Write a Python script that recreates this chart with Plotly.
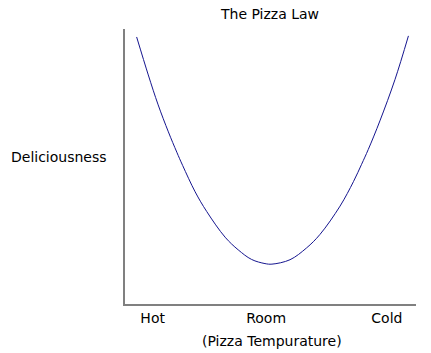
import plotly.graph_objects as go

# Data (x: temperature scale 0-10, y: deliciousness 0-10)
temp_x = [0.40, 0.80, 1.14, 1.49, 1.78, 1.98, 2.41, 2.81, 3.44, 3.89, 4.35, 4.81, 5.05,
          5.67, 6.24, 6.70, 7.39, 7.85, 8.13, 8.36, 8.76, 9.28, 9.74]
delicious_y = [9.71, 8.33, 7.24, 6.26, 5.52, 5.04, 4.08, 3.36, 2.43, 1.97, 1.62, 1.47, 1.45,
               1.61, 2.04, 2.53, 3.56, 4.45, 5.08, 5.62, 6.66, 8.17, 9.75]
tick_vals = [0.95, 4.85, 9.0]
tick_labels = ["Hot", "Room", "Cold"]

FONT = "DejaVu Sans"

fig = go.Figure()
fig.add_trace(go.Scatter(
    x=temp_x, y=delicious_y, mode="lines",
    line=dict(color="#15158f", width=1, shape="spline", smoothing=1.0),
    hoverinfo="skip", showlegend=False,
))

fig.update_layout(
    width=431, height=353,
    margin=dict(l=125, r=15, t=29, b=49),
    paper_bgcolor="white", plot_bgcolor="white",
    font=dict(family=FONT, size=14, color="black"),
    title=dict(text="The Pizza Law", x=270/431, xanchor="center",
               y=1 - 14/353, yanchor="middle", yref="container",
               font=dict(family=FONT, size=14, color="black")),
    xaxis=dict(range=[0, 10], showgrid=False, zeroline=False, showline=True,
               linecolor="#808080", linewidth=1.5, ticks="",
               tickvals=tick_vals, ticktext=tick_labels,
               tickfont=dict(family=FONT, size=14, color="black")),
    yaxis=dict(range=[0, 10], showgrid=False, zeroline=False, showline=True,
               linecolor="#808080", linewidth=1.5, ticks="", showticklabels=False),
    annotations=[
        dict(text="Deliciousness", xref="paper", yref="paper",
             x=-(125 - 58.5) / 291, y=(304 - 157) / 275,
             xanchor="center", yanchor="middle", showarrow=False,
             font=dict(family=FONT, size=14, color="black")),
        dict(text="(Pizza Tempurature)", xref="paper", yref="paper",
             x=(272 - 125) / 291, y=-(341.5 - 304) / 275,
             xanchor="center", yanchor="middle", showarrow=False,
             font=dict(family=FONT, size=14, color="black")),
    ],
)

fig.write_html("out.html")
